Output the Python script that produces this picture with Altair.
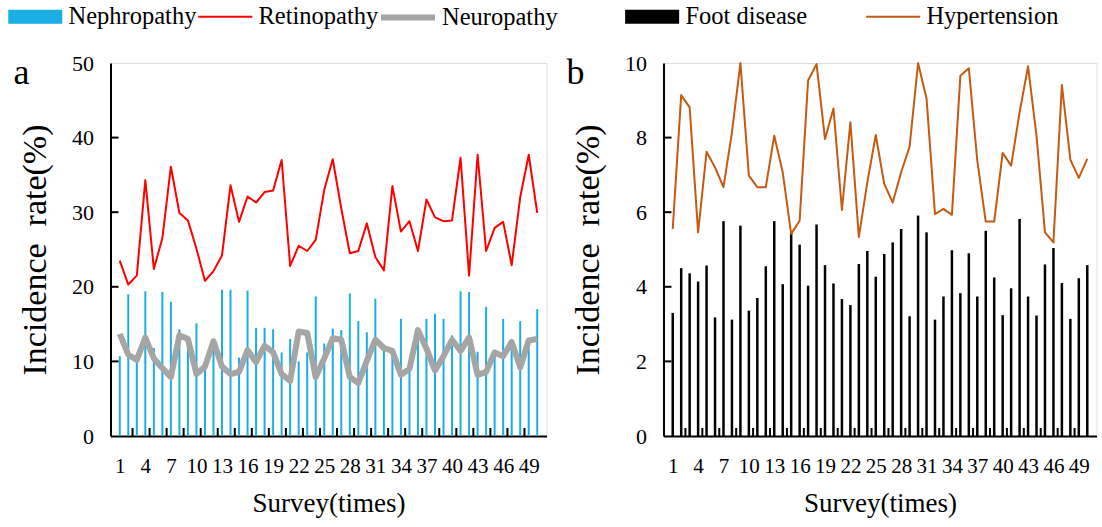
import altair as alt
import pandas as pd

FONT = "Liberation Serif"

survey = list(range(1, 51))
nephropathy = [10.7, 19.0, 10.0, 19.4, 11.8, 19.3, 18.0, 14.3, 12.5, 15.1,
               9.4, 12.0, 19.6, 19.6, 10.5, 19.5, 14.5, 14.5, 14.3, 11.2,
               13.0, 10.0, 11.2, 18.7, 12.4, 14.4, 14.2, 19.1, 15.4, 13.9,
               18.4, 12.1, 11.0, 15.7, 9.2, 13.8, 15.7, 16.4, 15.7, 13.5,
               19.4, 19.3, 11.3, 17.3, 10.8, 15.7, 12.3, 15.4, 13.0, 17.0]
retinopathy = [23.5, 20.3, 21.5, 34.3, 22.4, 26.5, 36.1, 29.9, 28.9, 25.1,
               20.8, 22.1, 24.2, 33.6, 28.7, 32.1, 31.3, 32.7, 32.9, 37.0,
               22.8, 25.5, 24.8, 26.3, 33.0, 37.1, 30.5, 24.5, 24.8, 28.5,
               24.0, 22.2, 33.5, 27.4, 28.8, 24.8, 31.7, 29.3, 28.8, 28.9,
               37.3, 21.5, 37.7, 24.8, 27.9, 28.7, 22.9, 32.0, 37.7, 29.9]
neuropathy = [13.7, 10.9, 10.2, 13.2, 10.4, 9.1, 7.9, 13.5, 13.0, 8.3,
              9.3, 12.7, 9.3, 8.3, 8.6, 11.5, 9.9, 12.1, 11.2, 8.3,
              7.4, 14.0, 13.8, 7.9, 10.4, 13.1, 12.9, 7.9, 7.1, 10.1,
              12.9, 11.8, 11.4, 8.2, 9.0, 14.2, 11.7, 8.8, 10.7, 12.9,
              11.4, 13.2, 8.2, 8.6, 11.2, 10.7, 12.6, 9.2, 12.8, 13.0]
foot_disease = [3.30, 4.50, 4.36, 4.14, 4.57, 3.18, 5.76, 3.12, 5.64, 3.36,
                3.70, 4.55, 5.76, 4.07, 5.45, 5.13, 4.03, 5.67, 4.58, 4.09,
                3.67, 3.51, 4.61, 4.96, 4.27, 4.88, 5.19, 5.55, 3.21, 5.91,
                5.46, 3.12, 3.74, 4.98, 3.83, 4.90, 3.74, 5.50, 4.25, 3.24,
                3.96, 5.82, 3.74, 3.23, 4.60, 5.04, 4.10, 3.14, 4.23, 4.58]
hypertension = [5.55, 9.14, 8.81, 5.46, 7.62, 7.20, 6.67, 8.14, 10.0, 6.98,
                6.67, 6.67, 8.05, 7.07, 5.42, 5.77, 9.53, 9.97, 7.96, 8.78,
                6.06, 8.41, 5.33, 6.80, 8.07, 6.76, 6.26, 7.07, 7.76, 10.0,
                9.05, 5.95, 6.09, 5.93, 9.66, 9.86, 7.38, 5.75, 5.75, 7.59,
                7.25, 8.68, 9.91, 8.05, 5.46, 5.19, 9.41, 7.41, 6.92, 7.43]

x_label_values = list(range(1, 51, 3))
x_tick_values = [2.5 + 2 * k for k in range(24)]
y_ticks_a = [0, 10, 20, 30, 40, 50]
y_ticks_b = [0, 2, 4, 6, 8, 10]

H = 373
BLUE, RED, GRAY, BLACK, ORANGE = "#1AAEE5", "#FF0000", "#A5A5A5", "#000000", "#C55A11"

df_a = pd.DataFrame({"survey": survey, "neph": nephropathy,
                     "ret": retinopathy, "neu": neuropathy})
df_b = pd.DataFrame({"survey": survey, "foot": foot_disease, "hyp": hypertension})

x_scale = alt.Scale(domain=[0.5, 50.5], nice=False, zero=False)


def x_axis():
    return alt.Axis(values=x_label_values, tickSize=0, grid=False,
                    labelFont=FONT, labelFontSize=21, labelColor="black",
                    labelPadding=19, labelOverlap=False, labelFlush=False,
                    title="Survey(times)", titleFont=FONT, titleFontSize=27,
                    titleFontWeight="normal", titleColor="black", titlePadding=14,
                    domainColor="black", domainWidth=2)


def y_axis(vals):
    return alt.Axis(values=vals, tickSize=0, grid=False,
                    labelFont=FONT, labelFontSize=22, labelColor="black",
                    labelPadding=17, labelFlush=False,
                    title="Incidence\u00a0 rate(%)", titleFont=FONT, titleFontSize=34,
                    titleFontWeight="normal", titleColor="black", titlePadding=19,
                    domainColor="black", domainWidth=2)


RECT = "M-2.7,-0.7H2.7V0.7H-2.7Z"
LINE = "M-2.7,0H2.7"
LEG_Y = -58.5


def legend(x, stype, sw=2):
    return alt.Legend(orient="none", legendX=x, legendY=LEG_Y, title=None,
                      labelFont=FONT, labelFontSize=24.5, labelColor="black",
                      symbolType=stype, symbolSize=400, symbolStrokeWidth=sw,
                      symbolOpacity=1, padding=0, labelOffset=21)


def panel(df, bar_col, bar_name, bar_color, lines, ydom, yvals, xt_df, yt_df,
          letter, bar_leg_x, bar_width, W):
    ys = alt.Scale(domain=ydom, nice=False, zero=True)
    xa = x_axis()
    ya = y_axis(yvals)
    X = alt.X("survey:Q", scale=x_scale, axis=xa)
    bars = alt.Chart(df).transform_calculate(series=f"'{bar_name}'").mark_bar(
        size=bar_width).encode(
        x=X,
        y=alt.Y(f"{bar_col}:Q", scale=ys, axis=ya),
        color=alt.Color("series:N",
                        scale=alt.Scale(domain=[bar_name], range=[bar_color]),
                        legend=legend(bar_leg_x, RECT, 0)),
    )
    layers = [bars]
    for col, name, color, sw, lx in lines:
        layers.append(
            alt.Chart(df).transform_calculate(series=f"'{name}'").mark_line(
                strokeWidth=sw, strokeJoin="round").encode(
                x=X,
                y=alt.Y(f"{col}:Q", scale=ys, axis=ya),
                color=alt.Color("series:N",
                                scale=alt.Scale(domain=[name], range=[color]),
                                legend=legend(lx, LINE, sw)),
            )
        )
    xt = alt.Chart(xt_df).mark_rule(color="black", strokeWidth=2).encode(
        x=alt.X("t:Q", scale=x_scale, axis=xa), y=alt.value(H), y2=alt.value(H - 8))
    yt = alt.Chart(yt_df).mark_rule(color="black", strokeWidth=2).encode(
        y=alt.Y("t:Q", scale=ys, axis=ya), x=alt.value(0), x2=alt.value(8))
    lab = alt.Chart(pd.DataFrame({"l": [letter]})).mark_text(
        font=FONT, fontSize=36, align="left", baseline="alphabetic", color="black"
    ).encode(text="l:N", x=alt.value(-97), y=alt.value(21))
    return alt.layer(*layers[:1], xt, yt, *layers[1:], lab).resolve_scale(
        color="independent").properties(width=W, height=H)


xt_df = pd.DataFrame({"t": x_tick_values})
left = panel(df_a, "neph", "Nephropathy", BLUE,
             [("neu", "Neuropathy", GRAY, 6, 284.5),
              ("ret", "Retinopathy", RED, 2, 102.5)],
             [0, 50], y_ticks_a, xt_df, pd.DataFrame({"t": y_ticks_a[1:-1]}),
             "a", -87.5, 2, 436)
right = panel(df_b, "foot", "Foot disease", BLACK,
              [("hyp", "Hypertension", ORANGE, 2, 217.4)],
              [0, 10], y_ticks_b, xt_df, pd.DataFrame({"t": y_ticks_b[1:-1]}),
              "b", -23.6, 2.5, 433)

chart = alt.hconcat(left, right, spacing=7).properties(
    padding={"left": 12.5, "top": 4, "right": 2, "bottom": 5}
).configure_view(stroke="#222222", strokeWidth=1.5).configure(background="white")

chart.save("out.html", embed_options={"renderer": "svg", "actions": False})
